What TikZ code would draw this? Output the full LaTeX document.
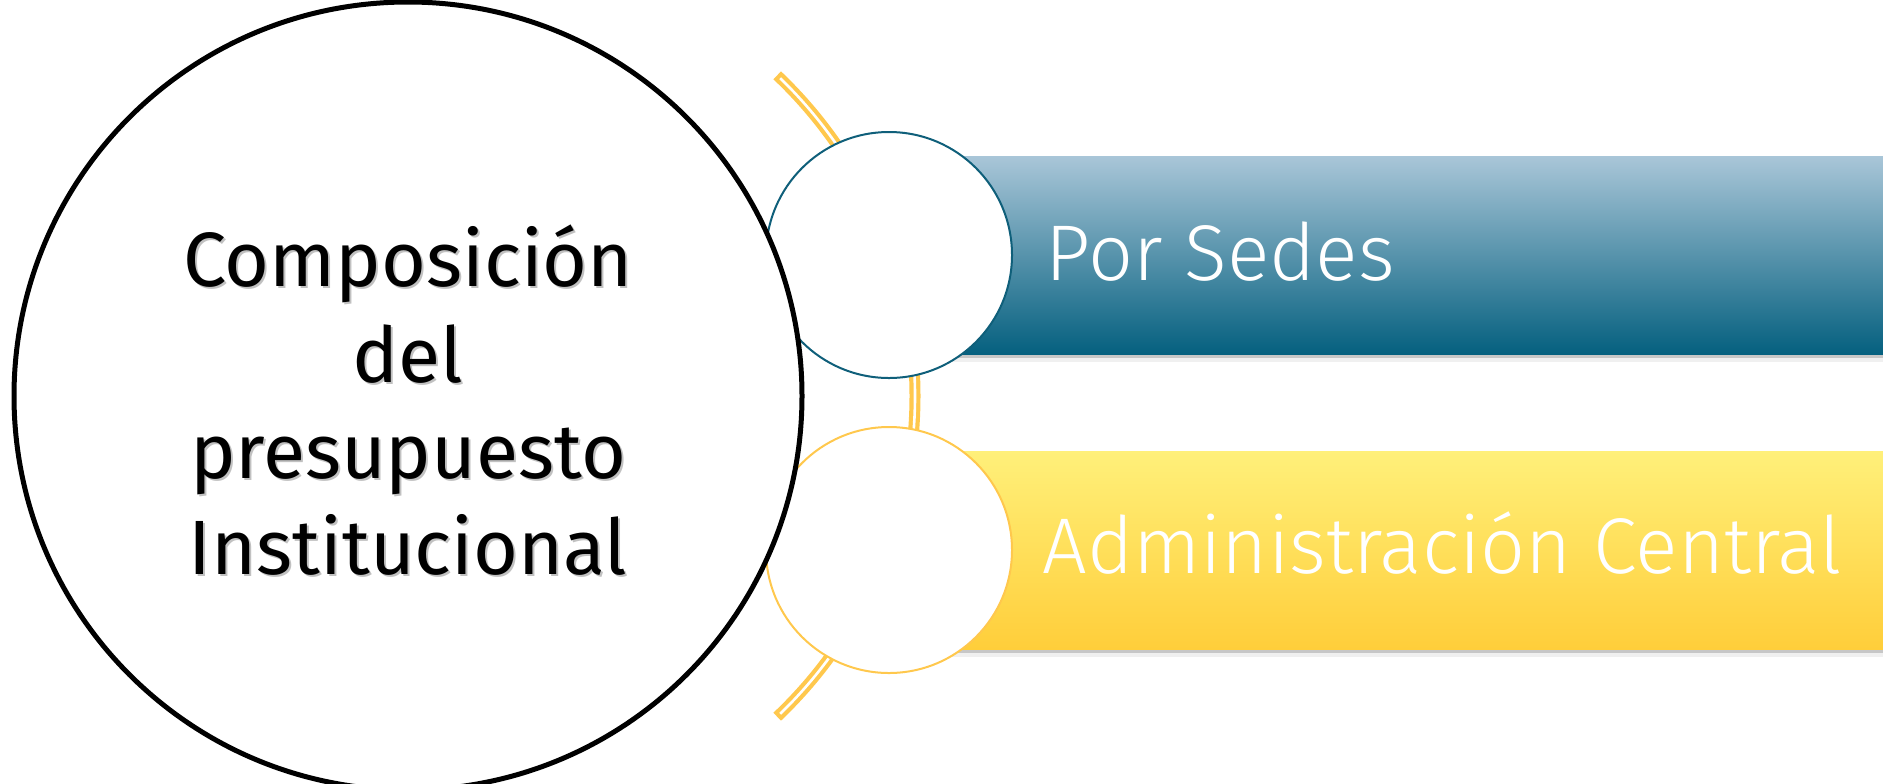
\documentclass[tikz,border=0pt]{standalone}
\usepackage{fontspec}
\setmainfont{Fira Sans}
\newfontfamily\lightfont{Fira Sans Light}
\definecolor{bluetop}{HTML}{A9C6D8}
\definecolor{bluebot}{HTML}{05607F}
\definecolor{tealline}{HTML}{0F5F7A}
\definecolor{yeltop}{HTML}{FFF07A}
\definecolor{yelbot}{HTML}{FFCE3A}
\definecolor{yelline}{HTML}{FFC84D}
\begin{document}
\begin{tikzpicture}[x=0.5pt,y=-0.5pt,
  barbox/.style={rectangle, minimum width=497pt, minimum height=99pt, inner sep=0pt, anchor=west},
  shadowdark/.style={barbox, fill=black!22},
  shadowlight/.style={barbox, fill=black!6},
  smallcirc/.style={circle, minimum size=123pt, inner sep=0pt, fill=white, line width=1pt},
  bartext/.style={anchor=base west, inner sep=0pt, text=white, font=\lightfont\fontsize{39.5}{48}\selectfont},
  bigtext/.style={align=center, inner sep=0pt, font=\fontsize{38.5}{48}\selectfont},
  arcline/.style={draw=yelline, line width=2.1pt, double=white, double distance=1.3pt, line cap=rect}]
\useasboundingbox (0,0) rectangle (1883,783);
% bars with shadows
\node[shadowlight] (s1l) at (889,263) {};
\node[shadowdark] (s1d) at (889,259) {};
\node[barbox, top color=bluetop, bottom color=bluebot] (bar1) at (889,255) {};
\node[shadowlight] (s2l) at (889,558) {};
\node[shadowdark] (s2d) at (889,554) {};
\node[barbox, top color=yeltop, bottom color=yelbot] (bar2) at (889,550) {};
% yellow double arc
\coordinate (ac) at (473,396);
\draw[arcline] (ac) ++(45.8:221pt) arc[start angle=45.8, end angle=-45.8, radius=221pt];
% small circles
\node[smallcirc, draw=tealline] (c1) at (889,255) {};
\node[smallcirc, draw=yelline] (c2) at (889,550) {};
% texts on bars
\node[bartext] (t1) at (1045,280) {Por Sedes};
\node[bartext] (t2) at (1042,573) {Administración Central};
% big circle
\node[circle, minimum size=394pt, inner sep=0pt, draw=black, fill=white, line width=2.5pt] (big) at (408,396) {};
\node[bigtext, text=black!30, opacity=0.8] (bigsh) at (410,402) {Composición\\del\\presupuesto\\Institucional};
\node[bigtext, text=black] (bigt) at (408,400) {Composición\\del\\presupuesto\\Institucional};
\end{tikzpicture}
\end{document}
